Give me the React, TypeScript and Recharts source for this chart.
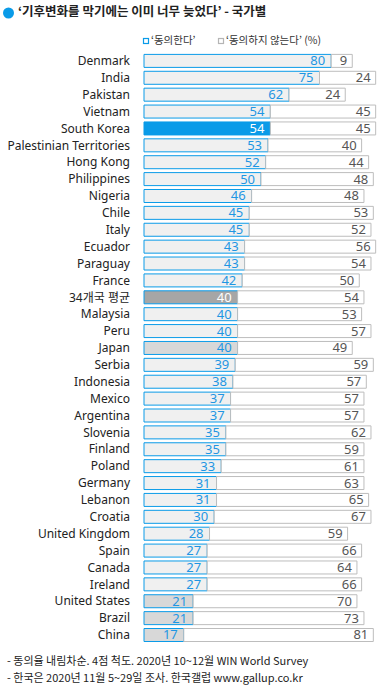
import React from 'react';
import { Bar, BarChart, Cell, LabelList, XAxis, YAxis } from 'recharts';

const countries = [
  'Denmark', 'India', 'Pakistan', 'Vietnam', 'South Korea', 'Palestinian Territories',
  'Hong Kong', 'Philippines', 'Nigeria', 'Chile', 'Italy', 'Ecuador', 'Paraguay',
  'France', '34개국 평균', 'Malaysia', 'Peru', 'Japan', 'Serbia', 'Indonesia', 'Mexico',
  'Argentina', 'Slovenia', 'Finland', 'Poland', 'Germany', 'Lebanon', 'Croatia',
  'United Kingdom', 'Spain', 'Canada', 'Ireland', 'United States', 'Brazil', 'China',
];
const agree = [
  80, 75, 62, 54, 54, 53, 52, 50, 46, 45, 45, 43, 43, 42, 40, 40, 40, 40, 39, 38, 37,
  37, 35, 35, 33, 31, 31, 30, 28, 27, 27, 27, 21, 21, 17,
];
const disagree = [
  9, 24, 24, 45, 45, 40, 44, 48, 48, 53, 52, 56, 54, 50, 54, 53, 57, 49, 59, 57, 57,
  57, 62, 59, 61, 63, 65, 67, 59, 66, 64, 66, 70, 73, 81,
];
const highlighted = ['Japan', 'United States', 'Brazil', 'China'];
const KOREA = 'South Korea';
const AVERAGE = '34개국 평균';

const data = countries.map((name, i) => ({ name, agree: agree[i], disagree: disagree[i] }));

const BLUE = '#0a9be8';
const FONT = '"Noto Sans", "Noto Sans CJK KR", sans-serif';
const KFONT = '"Noto Sans CJK KR", sans-serif';

function agreeFill(name: string): string {
  if (name === KOREA) return BLUE;
  if (name === AVERAGE) return '#a6a6a6';
  if (highlighted.includes(name)) return '#d8d8d8';
  return '#f0f0f0';
}

function AgreeLabel(props: any) {
  const { x, y, width, height, value, index } = props;
  const name = countries[index];
  const white = name === KOREA || name === AVERAGE;
  return (
    <text
      x={x + width - 6}
      y={y + height / 2 + 1}
      textAnchor="end"
      dominantBaseline="middle"
      fontSize={13}
      fontFamily={FONT}
      fill={white ? '#fff' : '#1e96e3'}
    >
      {value}
    </text>
  );
}

function DisagreeLabel(props: any) {
  const { x, y, width, height, value } = props;
  return (
    <text
      x={x + width - 5}
      y={y + height / 2 + 1}
      textAnchor="end"
      dominantBaseline="middle"
      fontSize={13}
      fontFamily={FONT}
      fill="#555"
    >
      {value}
    </text>
  );
}

export default function App() {
  return (
    <div style={{ position: 'absolute', left: 0, top: 0, width: 386, height: 690, background: '#fff' }}>
      <svg width={386} height={60} style={{ position: 'absolute', left: 0, top: 0 }}>
        <circle cx={8.5} cy={13} r={5.5} fill={BLUE} />
        <text x={18} y={13} dominantBaseline="middle" fontSize={12.5} fontWeight="bold" fontFamily={KFONT} fill="#222">
          ‘기후변화를 막기에는 이미 너무 늦었다’ - 국가별
        </text>
        <rect x={143.5} y={38.5} width={5} height={5} fill="#fff" stroke={BLUE} strokeWidth={1.2} />
        <text x={151} y={41.5} dominantBaseline="middle" fontSize={10.5} fontFamily={KFONT} fill="#333">
          ‘동의한다’
        </text>
        <rect x={218.5} y={38.5} width={5} height={5} fill="#fff" stroke="#b5b5b5" strokeWidth={1.2} />
        <text x={226} y={41.5} dominantBaseline="middle" fontSize={10.5} fontFamily={KFONT} fill="#333">
          ‘동의하지 않는다’ (%)
        </text>
      </svg>
      <div style={{ position: 'absolute', left: 0, top: 0 }}>
        <BarChart
          width={386}
          height={690}
          data={data}
          layout="vertical"
          margin={{ top: 52.4, bottom: 46.6, left: 0, right: 8 }}
          barSize={13}
        >
          <XAxis type="number" domain={[0, 100]} hide />
          <YAxis
            type="category"
            dataKey="name"
            width={144}
            interval={0}
            axisLine={false}
            tickLine={false}
            tickSize={0}
            tickMargin={14}
            tick={{ fontSize: 12, fill: '#222', fontFamily: FONT }}
          />
          <Bar dataKey="agree" stackId="a" stroke={BLUE} strokeWidth={1} isAnimationActive={false}>
            {data.map((d, i) => (
              <Cell key={i} fill={agreeFill(d.name)} />
            ))}
            <LabelList dataKey="agree" content={<AgreeLabel />} />
          </Bar>
          <Bar dataKey="disagree" stackId="a" fill="#fff" stroke="#bdbdbd" strokeWidth={1} isAnimationActive={false}>
            <LabelList dataKey="disagree" content={<DisagreeLabel />} />
          </Bar>
        </BarChart>
      </div>
      <svg width={386} height={40} style={{ position: 'absolute', left: 0, top: 650 }}>
        <text x={7} y={12} dominantBaseline="middle" fontSize={11} fontFamily={KFONT} fill="#222">
          - 동의율 내림차순. 4점 척도. 2020년 10~12월 WIN World Survey
        </text>
        <text x={7} y={29} dominantBaseline="middle" fontSize={11} fontFamily={KFONT} fill="#222">
          - 한국은 2020년 11월 5~29일 조사. 한국갤럽 www.gallup.co.kr
        </text>
      </svg>
    </div>
  );
}
